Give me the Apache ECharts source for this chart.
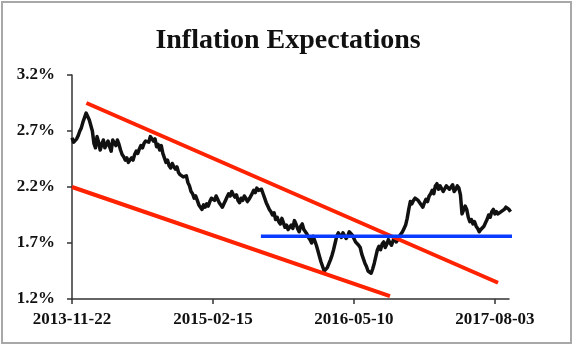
<!DOCTYPE html>
<html>
<head>
<meta charset="utf-8">
<script src="https://cdn.jsdelivr.net/npm/echarts@6/dist/echarts.min.js"></script>
<style>
  html, body { margin: 0; padding: 0; background: #ffffff; }
  #chart { width: 576px; height: 346px; }
</style>
</head>
<body>
<div id="chart"></div>
<script>
// Breakeven inflation expectations, sampled every 5 days from 2013-11-22 (percent)
const startDate = Date.UTC(2013, 10, 22);
const stepDays = 5;
const expectations = [
  2.64, 2.60, 2.61, 2.63, 2.66, 2.70, 2.73, 2.78, 2.82, 2.86,
  2.85, 2.80, 2.81, 2.70, 2.59, 2.55, 2.65, 2.60, 2.53, 2.58,
  2.62, 2.55, 2.58, 2.61, 2.56, 2.52, 2.62, 2.59, 2.57, 2.62,
  2.58, 2.53, 2.49, 2.47, 2.44, 2.46, 2.42, 2.44, 2.46, 2.44,
  2.49, 2.52, 2.50, 2.54, 2.57, 2.55, 2.59, 2.61, 2.62, 2.60,
  2.65, 2.64, 2.61, 2.63, 2.56, 2.58, 2.53, 2.57, 2.50, 2.46,
  2.42, 2.44, 2.39, 2.37, 2.41, 2.38, 2.36, 2.38, 2.33, 2.31,
  2.32, 2.29, 2.28, 2.30, 2.24, 2.21, 2.16, 2.14, 2.10, 2.12,
  2.08, 2.04, 2.02, 2.00, 2.04, 2.02, 2.05, 2.03, 2.07, 2.10,
  2.11, 2.08, 2.12, 2.09, 2.06, 2.04, 2.02, 2.05, 2.08, 2.11,
  2.14, 2.12, 2.16, 2.13, 2.11, 2.13, 2.08, 2.06, 2.10, 2.08,
  2.12, 2.10, 2.07, 2.09, 2.10, 2.14, 2.17, 2.15, 2.19, 2.17,
  2.16, 2.18, 2.14, 2.10, 2.06, 2.03, 2.00, 1.98, 1.95, 1.97,
  1.91, 1.93, 1.89, 1.87, 1.92, 1.88, 1.84, 1.86, 1.82, 1.84,
  1.86, 1.83, 1.90, 1.87, 1.83, 1.80, 1.85, 1.87, 1.82, 1.80,
  1.78, 1.75, 1.73, 1.70, 1.76, 1.72, 1.68, 1.63, 1.58, 1.53,
  1.49, 1.45, 1.46, 1.48, 1.49, 1.55, 1.59, 1.64, 1.70, 1.76,
  1.79, 1.77, 1.75, 1.79, 1.78, 1.74, 1.76, 1.80, 1.80, 1.77,
  1.74, 1.71, 1.70, 1.68, 1.66, 1.60, 1.56, 1.52, 1.49, 1.45,
  1.44, 1.43, 1.47, 1.52, 1.58, 1.64, 1.67, 1.64, 1.69, 1.71,
  1.66, 1.69, 1.73, 1.70, 1.68, 1.72, 1.75, 1.71, 1.73, 1.76,
  1.78, 1.80, 1.83, 1.86, 1.92, 2.00, 2.07, 2.05, 2.08, 2.10,
  2.11, 2.08, 2.07, 2.04, 2.02, 2.06, 2.09, 2.07, 2.12, 2.14,
  2.17, 2.14, 2.21, 2.23, 2.18, 2.21, 2.21, 2.16, 2.17, 2.21,
  2.22, 2.18, 2.19, 2.22, 2.16, 2.18, 2.21, 2.19, 2.13, 1.96,
  1.95, 2.03, 2.00, 1.93, 1.89, 1.91, 1.87, 1.89, 1.85, 1.83,
  1.80, 1.82, 1.83, 1.85, 1.88, 1.91, 1.95, 1.93, 1.98, 2.00,
  1.96, 1.98, 1.96, 1.95, 1.98, 1.97, 2.00, 2.02, 2.03, 2.00,
  1.98
];

// Axis ticks: days since start date, and percent levels
const tickDays = [0, 450, 900, 1350];
const yTicks = [1.2, 1.7, 2.2, 2.7, 3.2];

// Trend channel and support line as [day, percent] end points
const upperTrend = [[46, 2.95], [1360, 1.345]];
const lowerTrend = [[0, 2.2], [1015, 1.225]];
const supportLine = [[603, 1.76], [1414, 1.76]];

const seriesData = expectations.map((v, i) => [i * stepDays, v]);

function dayLabel(d) {
  const t = new Date(startDate + d * 86400000);
  const mm = String(t.getUTCMonth() + 1).padStart(2, '0');
  const dd = String(t.getUTCDate()).padStart(2, '0');
  return t.getUTCFullYear() + '-' + mm + '-' + dd;
}

const labelFont = {
  fontFamily: 'Liberation Serif',
  fontWeight: 'bold',
  fontSize: 17,
  color: '#111111'
};

const chart = echarts.init(document.getElementById('chart'), null, { renderer: 'canvas' });
chart.setOption({
  animation: false,
  backgroundColor: '#ffffff',
  graphic: [{
    type: 'rect',
    shape: { x: 2, y: 2, width: 569, height: 341 },
    style: { fill: 'none', stroke: '#a8a8a8', lineWidth: 2 },
    silent: true
  }],
  title: {
    text: 'Inflation Expectations',
    left: 'center',
    top: 22,
    textStyle: {
      fontFamily: 'Liberation Serif',
      fontWeight: 'bold',
      fontSize: 28,
      color: '#111111'
    }
  },
  grid: { left: 72, right: 67, top: 75, bottom: 47, containLabel: false },
  xAxis: {
    type: 'value',
    min: 0,
    max: 1395,
    axisLine: { show: true, lineStyle: { color: '#333333', width: 1.5 } },
    axisTick: { show: true, inside: false, length: 5, customValues: tickDays, lineStyle: { color: '#333333', width: 1.5 } },
    axisLabel: Object.assign({ customValues: tickDays, margin: 12, formatter: dayLabel }, labelFont),
    splitLine: { show: false }
  },
  yAxis: {
    type: 'value',
    min: 1.2,
    max: 3.2,
    axisLine: { show: true, lineStyle: { color: '#333333', width: 1.5 } },
    axisTick: { show: true, inside: false, length: 5, customValues: yTicks, lineStyle: { color: '#333333', width: 1.5 } },
    axisLabel: Object.assign({ customValues: yTicks, margin: 17, formatter: v => v.toFixed(1) + '%' }, labelFont),
    splitLine: { show: false }
  },
  series: [
    {
      name: 'Expectations',
      type: 'line',
      data: seriesData,
      showSymbol: false,
      lineStyle: { color: '#111111', width: 3.5, join: 'round' },
      z: 3
    },
    {
      name: 'Upper trend',
      type: 'line',
      data: upperTrend,
      showSymbol: false,
      lineStyle: { color: '#ff2200', width: 4 },
      z: 4
    },
    {
      name: 'Lower trend',
      type: 'line',
      data: lowerTrend,
      showSymbol: false,
      lineStyle: { color: '#ff2200', width: 4 },
      z: 4
    },
    {
      name: 'Support',
      type: 'line',
      data: supportLine,
      showSymbol: false,
      clip: false,
      lineStyle: { color: '#0a3cff', width: 3.5 },
      z: 5
    }
  ]
});
</script>
</body>
</html>
